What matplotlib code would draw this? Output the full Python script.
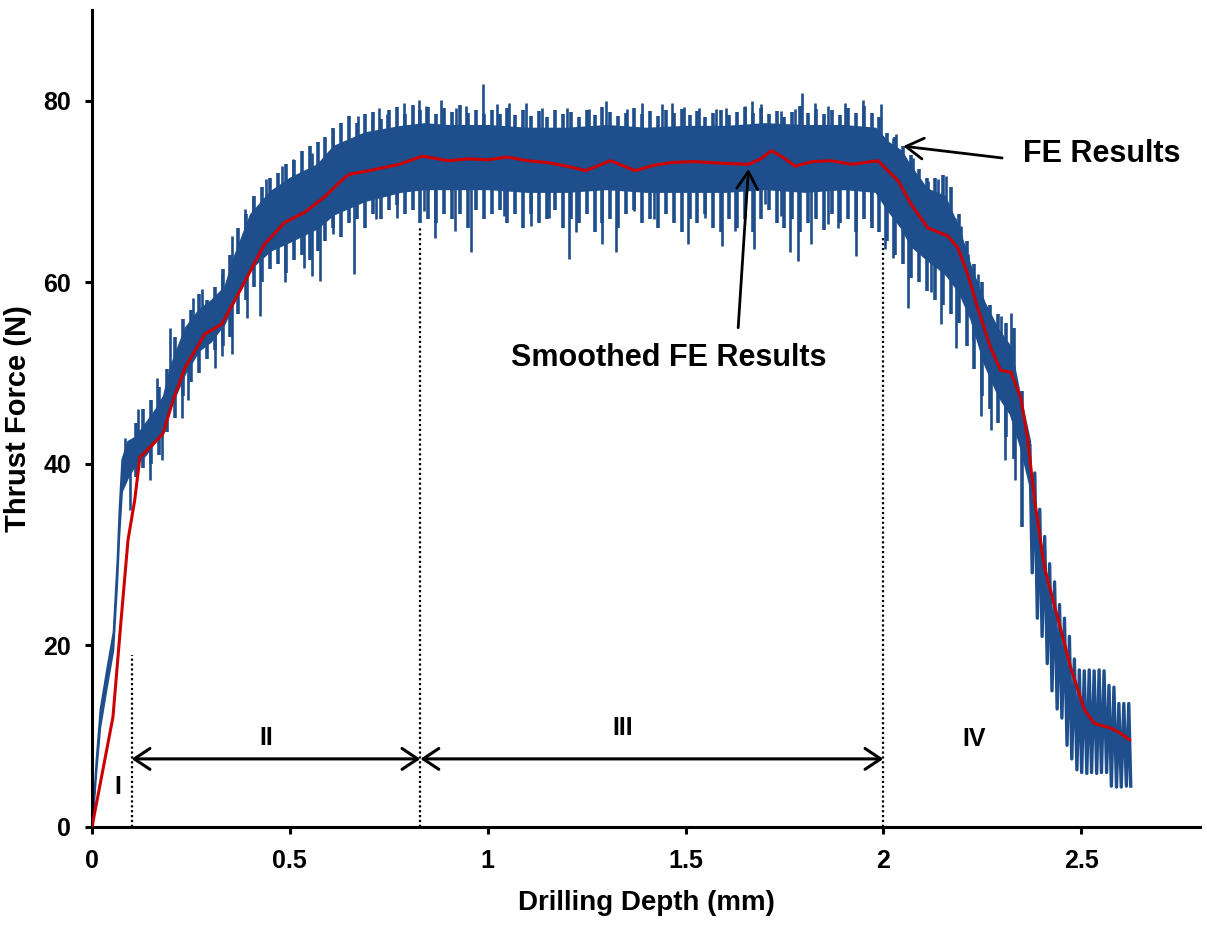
import numpy as np
import matplotlib
matplotlib.use("Agg")
from matplotlib import pyplot as plt

plt.rcParams['font.family'] = ['Liberation Sans', 'DejaVu Sans']
plt.rcParams['font.weight'] = 'bold'

blue = '#1f4e8c'
red = '#cc0000'

# FE result: dense core of the noisy signal (lower / upper edge)
band_x = [0.0, 0.01, 0.02, 0.037, 0.053, 0.063, 0.068, 0.075, 0.09,
          0.11, 0.135, 0.16, 0.18, 0.2, 0.235, 0.27, 0.3, 0.335, 0.36,
          0.4, 0.45, 0.5, 0.57, 0.61, 0.69, 0.78, 0.84, 0.9, 1.0,
          1.1, 1.2, 1.3, 1.4, 1.5, 1.6, 1.7, 1.8, 1.9, 1.98,
          2.01, 2.045, 2.07, 2.11, 2.155, 2.19, 2.22, 2.255, 2.29, 2.32,
          2.345, 2.37]
band_lo = [0, 6, 11, 15.5, 19.5, 27, 32, 37, 38.5,
           40, 41, 42.5, 43.5, 46.5, 50, 52.5, 53.5, 55.5, 58,
           61.5, 63.5, 64.5, 66, 67.5, 69, 70, 70.3, 70.3, 70.3,
           70, 70, 70.3, 70, 70, 70, 70.3, 70, 70.3, 70,
           68, 66, 64, 62.5, 61, 59, 56, 51, 47.5, 45.5,
           42, 37.5]
band_hi = [0.5, 7.5, 13, 17.5, 21.5, 29.5, 35, 40.5, 42.5,
           43, 44.5, 46, 47.5, 51, 55, 57, 58, 59.5, 63,
           67.5, 70, 71.5, 73, 75, 76.5, 77.2, 77.5, 77.3, 77.3,
           77, 77, 77.3, 77, 77.2, 77.2, 77.5, 77.3, 77.3, 77,
           75.5, 74.5, 72.7, 70.3, 69.5, 66, 61.8, 57.8, 54.8, 53,
           47.5, 42.5]

# strong spikes above the core
up_x = [0.083, 0.116, 0.164, 0.197, 0.255, 0.277, 0.328, 0.353, 0.386, 0.406,
        0.441, 0.479, 0.507, 0.557, 0.608, 0.671, 0.708, 0.726, 0.746, 0.789,
        0.827, 0.844, 0.882, 0.920, 0.945, 0.988, 1.023, 1.054, 1.096, 1.137,
        1.200, 1.255, 1.298, 1.351, 1.389, 1.440, 1.465, 1.495, 1.533, 1.578,
        1.601, 1.651, 1.669, 1.691, 1.742, 1.777, 1.795, 1.828, 1.860, 1.903,
        1.949, 1.994, 2.024, 2.032, 2.075, 2.112, 2.138, 2.158, 2.180, 2.196,
        2.213, 2.238, 2.268, 2.296, 2.322]
up_y = [42.9, 46.1, 49.5, 55.0, 58.3, 59.3, 60.9, 65.1, 68.1, 69.3,
        71.4, 72.8, 73.6, 74.3, 76.9, 78.3, 78.0, 79.2, 78.5, 79.8,
        80.1, 79.4, 80.1, 79.2, 79.4, 81.8, 79.6, 79.8, 79.8, 79.2,
        79.2, 79.1, 80.0, 79.1, 79.8, 79.6, 79.8, 79.3, 79.2, 79.1,
        79.2, 79.4, 80.0, 79.6, 78.9, 79.1, 80.9, 79.8, 79.4, 79.8,
        80.1, 79.6, 75.9, 76.3, 73.7, 71.2, 71.4, 71.7, 67.1, 66.2,
        63.1, 60.9, 56.1, 56.3, 56.6]

# strong spikes below the core
dn_x = [0.096, 0.146, 0.176, 0.227, 0.242, 0.310, 0.328, 0.353, 0.391, 0.424,
        0.487, 0.537, 0.557, 0.575, 0.608, 0.663, 0.718, 0.771, 0.839, 0.867,
        0.918, 0.958, 1.041, 1.109, 1.155, 1.205, 1.222, 1.289, 1.323, 1.369,
        1.419, 1.507, 1.550, 1.591, 1.626, 1.674, 1.701, 1.742, 1.765, 1.785,
        1.818, 1.860, 1.886, 1.931, 1.969, 2.004, 2.024, 2.062, 2.120, 2.145,
        2.183, 2.226, 2.246, 2.271, 2.306, 2.332]
dn_y = [34.9, 38.2, 40.4, 45.1, 47.0, 50.6, 51.9, 52.1, 56.1, 56.3,
        60.0, 61.6, 60.7, 60.2, 65.3, 60.9, 67.0, 67.1, 67.9, 64.9,
        65.7, 63.3, 67.3, 66.2, 67.1, 62.6, 65.5, 64.2, 63.3, 67.9,
        67.0, 64.2, 67.1, 64.0, 65.7, 63.7, 68.6, 67.3, 63.3, 62.4,
        64.2, 66.4, 66.0, 62.9, 66.8, 63.7, 62.7, 57.2, 58.9, 55.4,
        52.8, 53.6, 45.3, 43.7, 40.4, 38.2]

# ordinary oscillation: low and high of each swing
osc_x = [0.11, 0.13, 0.15, 0.17, 0.19, 0.21, 0.23, 0.25, 0.27, 0.29,
         0.31, 0.33, 0.35, 0.37, 0.39, 0.41, 0.43, 0.45, 0.47, 0.49,
         0.51, 0.53, 0.55, 0.57, 0.59, 0.61, 0.63, 0.65, 0.67, 0.69,
         0.71, 0.73, 0.75, 0.77, 0.79, 0.81, 0.83, 0.85, 0.87, 0.89,
         0.91, 0.93, 0.95, 0.97, 0.99, 1.01, 1.03, 1.05, 1.07, 1.09,
         1.11, 1.13, 1.15, 1.17, 1.19, 1.21, 1.23, 1.25, 1.27, 1.29,
         1.31, 1.33, 1.35, 1.37, 1.39, 1.41, 1.43, 1.45, 1.47, 1.49,
         1.51, 1.53, 1.55, 1.57, 1.59, 1.61, 1.63, 1.65, 1.67, 1.69,
         1.71, 1.73, 1.75, 1.77, 1.79, 1.81, 1.83, 1.85, 1.87, 1.89,
         1.91, 1.93, 1.95, 1.97, 1.99, 2.01, 2.03, 2.05, 2.07, 2.09,
         2.11, 2.13, 2.15, 2.17, 2.19, 2.21, 2.23, 2.25, 2.27, 2.29,
         2.31, 2.33, 2.35]
osc_hi = [44.5, 46, 47, 48.5, 50.5, 54, 56, 57, 58.7, 58,
          59.5, 61.5, 63, 66, 67.5, 69.5, 70.5, 71.5, 72, 73,
          73.5, 74.5, 75, 75.5, 76, 77, 77.5, 78.3, 77.5, 78.5,
          78.8, 78, 79, 79.3, 78.5, 79.5, 79, 79.3, 78.5, 79.2,
          78.8, 79.5, 78.6, 79, 78.5, 79, 78.5, 79.2, 78.4, 79,
          78.3, 78.9, 78.2, 79, 78.5, 78.8, 78.2, 79, 78.4, 79.3,
          78.8, 78.3, 78.7, 79.2, 78.5, 78.9, 78.3, 79, 78.6, 79.1,
          78.4, 78.9, 78.2, 78.7, 79, 78.4, 78.8, 79.3, 78.6, 79.2,
          78.5, 78.9, 78.2, 78.8, 79.4, 78.6, 79.1, 78.5, 79, 78.4,
          79.2, 78.7, 79.4, 78.6, 78.2, 76.5, 76, 75, 74, 72.5,
          71.5, 71.5, 71.8, 70.5, 67.5, 64.5, 62, 60, 57.5, 56.5,
          55.5, 55, 48]
osc_lo = [38.5, 39.5, 40, 41, 43.5, 45, 47.5, 49, 50, 51.5,
          52.5, 53, 54, 56.5, 58, 59.5, 60, 61.5, 62, 61,
          62.5, 63, 62.5, 63.5, 64.5, 66, 65, 66.5, 67, 66,
          67.5, 67, 68, 68.5, 67.5, 68, 66.5, 67, 66.5, 67.5,
          67, 67.5, 66, 68, 67, 67.5, 68, 66.5, 67.5, 66,
          67.5, 66.5, 67, 68, 66, 67, 66.5, 67.5, 65.5, 66.5,
          67, 66, 67.5, 68, 66.5, 67, 66, 67.5, 66.5, 65.5,
          67, 66.5, 67.5, 66, 65.5, 67, 66, 67, 65.5, 67,
          68, 66.5, 66, 67, 65.5, 66.5, 67, 65.8, 67.5, 66.5,
          67, 65.5, 67, 66, 65.5, 64.5, 63, 62, 60.5, 60,
          59, 58, 57.5, 56.5, 55.5, 53, 50.5, 47.5, 46, 44.5,
          43, 40.5, 33]

# tail of the FE result, single teeth visible
tail_x = [2.370, 2.376, 2.3825, 2.389, 2.395, 2.401, 2.4075, 2.414, 2.420, 2.426,
          2.4325, 2.439, 2.445, 2.451, 2.4575, 2.464, 2.470, 2.476, 2.4825, 2.489,
          2.495, 2.501, 2.5075, 2.514, 2.520, 2.526, 2.5325, 2.539, 2.545, 2.551,
          2.5575, 2.564, 2.570, 2.576, 2.5825, 2.589, 2.595, 2.601, 2.6075, 2.614,
          2.620, 2.625]
tail_y = [42, 28, 39, 23, 35, 21, 32, 18, 29, 15,
          27, 13, 24.5, 12, 23, 9, 21, 7.5, 18.5, 6.3,
          17.3, 6.0, 17.2, 5.9, 17.3, 6.0, 17.2, 5.9, 17.3, 6.0,
          17.2, 6.0, 15.6, 4.5, 15.4, 4.4, 13.6, 4.4, 13.6, 4.5,
          13.6, 4.5]

# smoothed FE result
sm_x = [0, 0.053, 0.072, 0.091, 0.108, 0.121, 0.15, 0.179, 0.205, 0.235,
        0.285, 0.328, 0.378, 0.436, 0.487, 0.537, 0.59, 0.63, 0.65, 0.70,
        0.776, 0.835, 0.90, 0.95, 1.0, 1.05, 1.1, 1.15, 1.2, 1.248,
        1.31, 1.373, 1.42, 1.465, 1.52, 1.6, 1.659, 1.69, 1.717, 1.745,
        1.777, 1.82, 1.868, 1.92, 1.986, 2.037, 2.07, 2.112, 2.163, 2.188,
        2.213, 2.238, 2.271, 2.296, 2.322, 2.347, 2.364, 2.382, 2.407, 2.44,
        2.473, 2.508, 2.533, 2.574, 2.6, 2.622]
sm_y = [0, 12.1, 22, 31.6, 36, 40.7, 42, 43.3, 47, 50.6,
        54.3, 55.4, 59.4, 64.2, 66.6, 67.7, 69.5, 71.2, 71.9, 72.3,
        73.0, 73.9, 73.4, 73.6, 73.5, 73.8, 73.4, 73.2, 72.8, 72.3,
        73.4, 72.3, 72.9, 73.2, 73.3, 73.1, 73.0, 73.6, 74.5, 73.8,
        72.8, 73.3, 73.4, 73.0, 73.4, 71.2, 68.6, 66.0, 65.1, 63.8,
        60.9, 57.2, 52.8, 50.3, 50.1, 47.3, 42.9, 36.0, 28.6, 23.1,
        17.6, 12.9, 11.4, 10.9, 10.3, 9.6]

# stage boundaries and labels
stage_x = [0.1, 0.83, 2.0]
stage_top = [18.9, 66.2, 64.9]
roman = ['I', 'II', 'III', 'IV']
roman_x = [0.066, 0.44, 1.34, 2.23]
roman_y = [4.4, 9.8, 10.9, 9.7]

fig = plt.figure(figsize=(12.07, 9.27), dpi=100)
ax = fig.add_axes([0.0762, 0.1079, 0.918, 0.8813])

ax.fill_between(band_x, band_lo, band_hi, color=blue, lw=1.2, edgecolor=blue, zorder=2)
ax.vlines(osc_x, osc_lo, osc_hi, color=blue, lw=2.6, zorder=2)
mid = (np.array(band_lo) + np.array(band_hi)) / 2
ax.vlines(up_x, np.interp(up_x, band_x, mid), up_y, color=blue, lw=1.9, zorder=2)
ax.vlines(dn_x, dn_y, np.interp(dn_x, band_x, mid), color=blue, lw=1.9, zorder=2)
ax.plot(tail_x, tail_y, color=blue, lw=2.4, zorder=2)
ax.plot(sm_x, sm_y, color=red, lw=2.2, zorder=3)

ax.vlines(stage_x, 0, stage_top, colors='black', lw=1.6, linestyles=(0, (1, 1.2)), zorder=1)
arrow = dict(arrowstyle='<->, head_length=0.45, head_width=0.3', lw=2.2,
             color='black', mutation_scale=25, shrinkA=0, shrinkB=0)
ax.annotate('', xy=(stage_x[1], 7.5), xytext=(stage_x[0], 7.5), arrowprops=arrow)
ax.annotate('', xy=(stage_x[2], 7.5), xytext=(stage_x[1], 7.5), arrowprops=arrow)
for t, x, y in zip(roman, roman_x, roman_y):
    ax.text(x, y, t, ha='center', va='center', fontsize=18, fontweight='bold')

pointer = dict(arrowstyle='->, head_length=0.5, head_width=0.3', lw=2,
               color='black', mutation_scale=25, shrinkA=0, shrinkB=0)
ax.annotate('', xy=(2.05, 75.0), xytext=(2.30, 73.7), arrowprops=pointer)
ax.text(2.352, 74.1, 'FE Results', ha='left', va='center', fontsize=22, fontweight='bold')
ax.annotate('', xy=(1.659, 72.5), xytext=(1.633, 55.0), arrowprops=pointer)
ax.text(1.457, 51.7, 'Smoothed FE Results', ha='center', va='center', fontsize=22, fontweight='bold')

ax.set_xlim(0, 2.8)
ax.set_ylim(0, 90)
ax.set_xticks([0, 0.5, 1, 1.5, 2, 2.5])
ax.set_xticklabels(['0', '0.5', '1', '1.5', '2', '2.5'])
ax.set_yticks([0, 20, 40, 60, 80])
for s in ['top', 'right']:
    ax.spines[s].set_visible(False)
for s in ['left', 'bottom']:
    ax.spines[s].set_linewidth(2.2)
ax.tick_params(direction='out', length=5, width=2.2, labelsize=18)
ax.tick_params(axis='x', pad=11)
ax.tick_params(axis='y', pad=10)
ax.set_xlabel('Drilling Depth (mm)', fontsize=20, fontweight='bold', labelpad=12)
ax.set_ylabel('Thrust Force (N)', fontsize=21, fontweight='bold', labelpad=8)

fig.savefig('out.png', dpi=100)
